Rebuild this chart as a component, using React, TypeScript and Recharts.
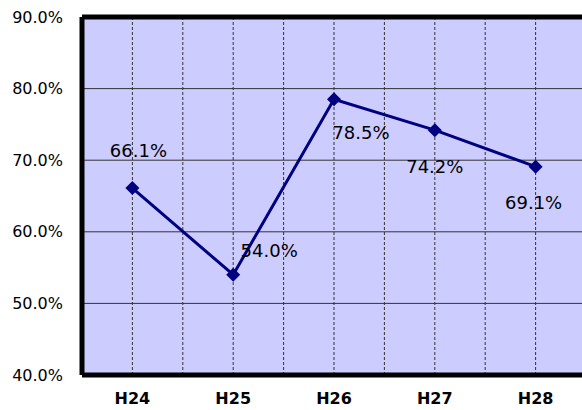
import { LineChart, Line, XAxis, YAxis, CartesianGrid, ReferenceLine, LabelList } from "recharts";

const years = ["H24", "H25", "H26", "H27", "H28"];
const rates = [66.1, 54.0, 78.5, 74.2, 69.1];
const yTicks = [40, 50, 60, 70, 80, 90];

// where each value label sits relative to its marker
const labelOffsets = [
  { dx: 6, dy: -38 },
  { dx: 36, dy: -24 },
  { dx: 27, dy: 33 },
  { dx: 0, dy: 36 },
  { dx: -2, dy: 36 },
];

const data = years.map((name, i) => ({ name, x: i * 2 + 1, rate: rates[i] }));
const xTicks = Array.from({ length: years.length * 2 + 1 }, (_, i) => i);

const font = "'DejaVu Sans', sans-serif";

function Diamond(props: any) {
  const { cx, cy } = props;
  if (cx == null || cy == null) return null;
  const r = 7;
  return (
    <polygon
      points={`${cx},${cy - r} ${cx + r},${cy} ${cx},${cy + r} ${cx - r},${cy}`}
      fill="#000080"
    />
  );
}

function RateLabel(props: any) {
  const { x, y, value, index } = props;
  const off = labelOffsets[index] || { dx: 0, dy: -20 };
  return (
    <text
      x={x + off.dx}
      y={y + off.dy}
      textAnchor="middle"
      dominantBaseline="central"
      fontSize={18}
      fontFamily={font}
      fill="#000"
    >
      {Number(value).toFixed(1)}%
    </text>
  );
}

export default function App() {
  return (
    <div style={{ position: "absolute", left: 0, top: 0, width: 582, height: 410, overflow: "hidden", background: "#fff" }}>
      <LineChart width={602} height={410} data={data} margin={{ top: 17, right: 16, bottom: 0, left: 0 }}>
        <CartesianGrid vertical={false} stroke="#333" strokeWidth={1} fill="#ccccff" />
        <CartesianGrid horizontal={false} stroke="#333" strokeWidth={1} strokeDasharray="3 2" />
        <XAxis
          type="number"
          dataKey="x"
          domain={[0, xTicks.length - 1]}
          ticks={xTicks}
          interval={0}
          axisLine={false}
          tickLine={false}
          tickSize={0}
          tickMargin={18}
          height={35}
          tickFormatter={(v: number) => (v % 2 === 1 ? years[(v - 1) / 2] : "")}
          tick={{ fill: "#000", fontSize: 16, fontWeight: "bold", fontFamily: font }}
        />
        <YAxis
          type="number"
          domain={[40, 90]}
          ticks={yTicks}
          interval={0}
          axisLine={false}
          tickLine={false}
          tickSize={0}
          tickMargin={19}
          width={82}
          tickFormatter={(v: number) => v.toFixed(1) + "%"}
          tick={{ fill: "#000", fontSize: 16, fontFamily: font }}
        />
        <ReferenceLine y={90} stroke="#000" strokeWidth={5} />
        <ReferenceLine y={40} stroke="#000" strokeWidth={5} />
        <ReferenceLine x={0} stroke="#000" strokeWidth={5} />
        <Line
          dataKey="rate"
          stroke="#000080"
          strokeWidth={3}
          dot={<Diamond />}
          activeDot={false}
          isAnimationActive={false}
        >
          <LabelList dataKey="rate" content={<RateLabel />} />
        </Line>
      </LineChart>
    </div>
  );
}
